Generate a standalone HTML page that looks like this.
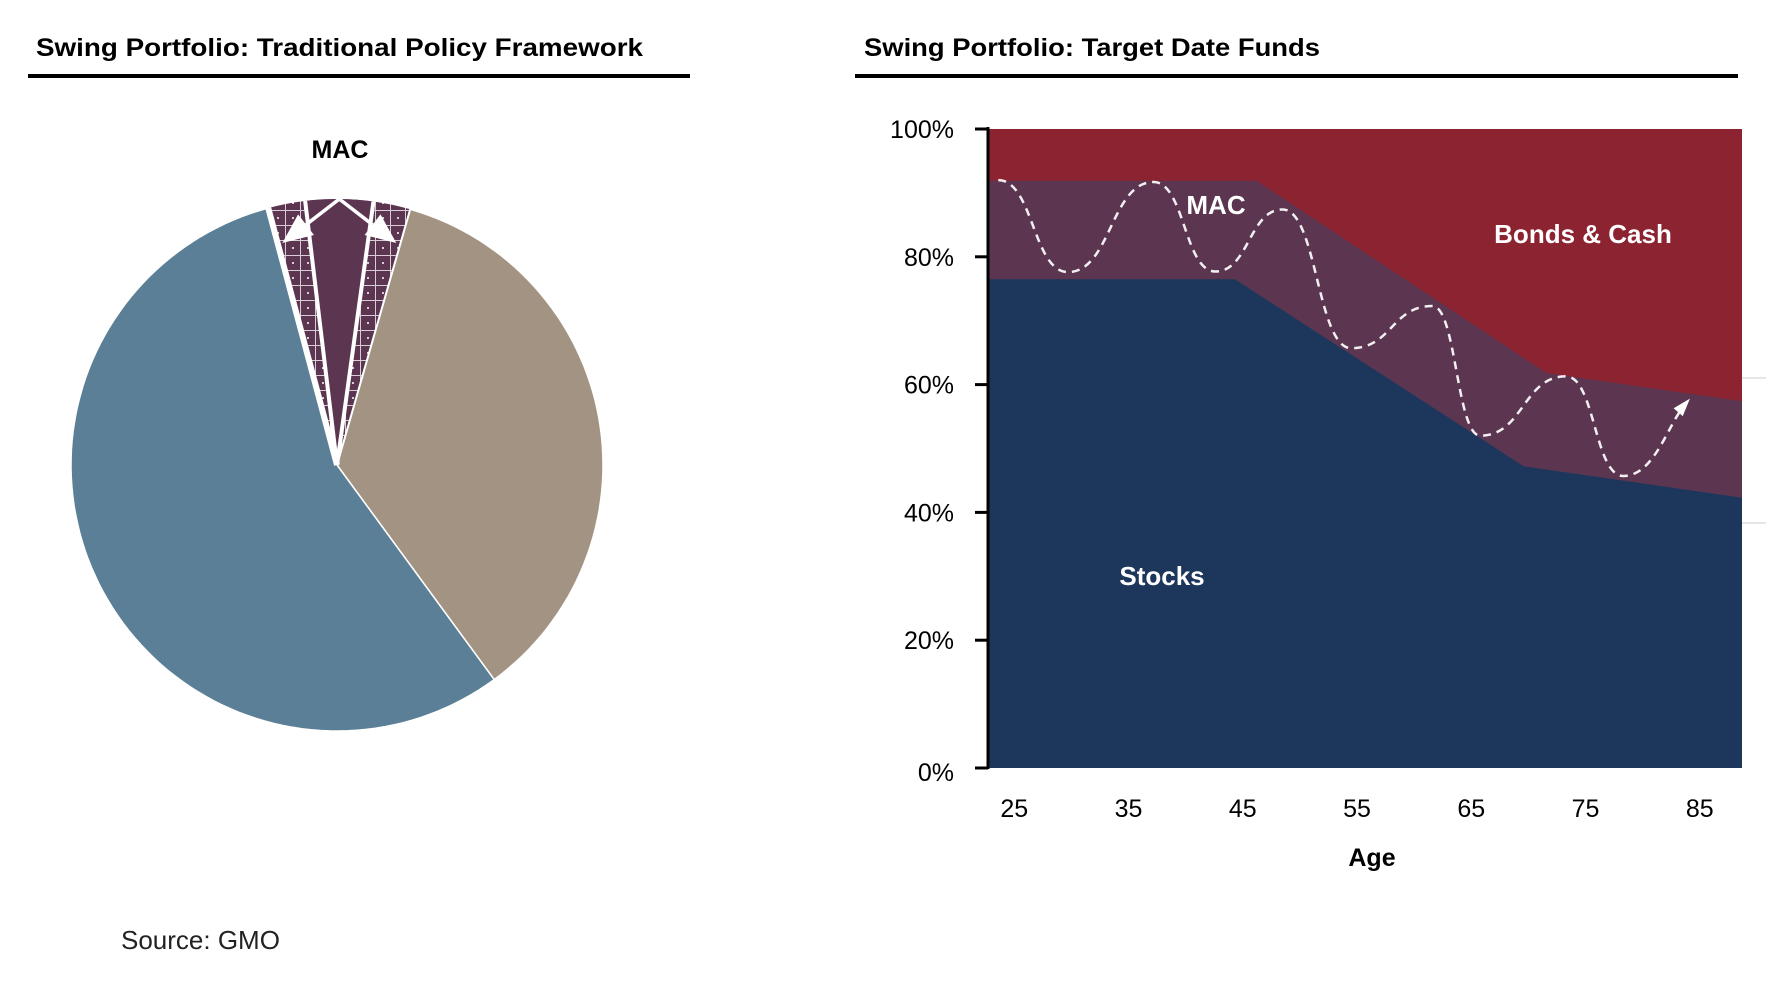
<!DOCTYPE html>
<html><head><meta charset="utf-8">
<style>
html,body{margin:0;padding:0;background:#fff;}
body{width:1786px;height:976px;overflow:hidden;position:relative;font-family:"Liberation Sans",sans-serif;}
svg text{font-family:"Liberation Sans",sans-serif;}
</style></head>
<body>
<svg id="root" width="1786" height="976" viewBox="0 0 1786 976" xmlns="http://www.w3.org/2000/svg">
<defs>
<pattern id="hatch" width="15" height="15" patternUnits="userSpaceOnUse">
<rect width="15" height="15" fill="#5C3651"/>
<path d="M0 0.5H15M0.5 0V15" stroke="#d8cdd6" stroke-width="1"/>
<circle cx="8" cy="8" r="1" fill="#fff"/>
</pattern>
</defs>
<text x="36" y="56" font-size="25" font-weight="bold" fill="#000" textLength="607" lengthAdjust="spacingAndGlyphs">Swing Portfolio: Traditional Policy Framework</text>
<rect x="28" y="74" width="662" height="4" fill="#000"/>
<text x="340" y="158" font-size="25" font-weight="bold" text-anchor="middle" fill="#000">MAC</text>
<g id="pie"></g>
<text x="121" y="949" font-size="26" fill="#222">Source: GMO</text>

<text x="864" y="56" font-size="25" font-weight="bold" fill="#000" textLength="456" lengthAdjust="spacingAndGlyphs">Swing Portfolio: Target Date Funds</text>
<rect x="855" y="74" width="883" height="4" fill="#000"/>
<g id="area"></g>
</svg>
<script>
// ---- Pie data ----
const pieCategories = ["MAC", "Bonds & Cash", "Stocks"];
const pieValues = [8.6, 35.5, 55.9];
const macCore = 4.1;
// ---- Area chart data ----
const xTicks = [25, 35, 45, 55, 65, 75, 85];
const yTicks = [0, 20, 40, 60, 80, 100];
const stockAges = [22.7, 44.3, 69.6, 88.7];
const stockValues = [76.5, 76.5, 47.2, 42.3];
const macAges = [22.7, 46.2, 71.6, 88.7];
const macTopValues = [91.9, 91.9, 61.8, 57.4];
const swingAges = [23.6, 29.7, 37.2, 42.6, 48.5, 54.5, 61.6, 65.8, 73.3, 78.3, 83.8];
const swingValues = [92, 77.6, 91.7, 77.7, 87.4, 65.7, 72.3, 52, 61.3, 45.7, 57.1];

const NS = "http://www.w3.org/2000/svg";
function mk(tag, attrs, parent){const e=document.createElementNS(NS,tag);for(const k in attrs)e.setAttribute(k,attrs[k]);parent.appendChild(e);return e;}

// ---- Pie ----
const pieG = document.getElementById('pie');
const pcx=337, pcy=465, prx=266, pry=266;
function pt(deg, s){s=s||1;const r=deg*Math.PI/180;return [pcx+prx*s*Math.sin(r), pcy-pry*s*Math.cos(r)];}
function wedge(a0,a1){
  let d=`M${pcx},${pcy}`;const n=Math.max(2,Math.ceil((a1-a0)/2));
  for(let i=0;i<=n;i++){const p=pt(a0+(a1-a0)*i/n);d+=`L${p[0].toFixed(1)},${p[1].toFixed(1)}`;}
  return d+'Z';
}
const pieTotal = pieValues.reduce((a,b)=>a+b,0);
const macDeg = pieValues[0]/pieTotal*360;
const macStart = 0.5 - macDeg/2;
const pieColors = ["url(#hatch)", "#A39382", "#5B7F96"];
const pieNames = ["pie-slice-mac", "pie-slice-bonds-cash", "pie-slice-stocks"];
let ang = macStart;
for(let i=0;i<pieValues.length;i++){
  const d = pieValues[i]/pieTotal*360;
  const p = mk('path',{d:wedge(ang,ang+d),fill:pieColors[i],stroke:'#fff','stroke-width':i==0?0:1.5},pieG);
  
  
  ang+=d;
}
const coreDeg = macCore/pieTotal*360;
const c0 = 0.5-coreDeg/2, c1 = 0.5+coreDeg/2;
const coreEl = mk('path',{d:wedge(c0,c1),fill:'#5C3651'},pieG);


[[macStart,6],[c0,4],[c1,4],[macStart+macDeg,2]].forEach(([an,w])=>{
  const p=pt(an);
  const l=mk('line',{x1:pcx,y1:pcy,x2:p[0],y2:p[1],stroke:'#fff','stroke-width':w},pieG);
  
  
});
const macTop = pt(0.5);
[-1,1].forEach(s=>{
  const tip = [macTop[0]+s*57, macTop[1]+44];
  const dx=tip[0]-macTop[0], dy=tip[1]-macTop[1], L=Math.hypot(dx,dy), ux=dx/L, uy=dy/L;
  const bx=tip[0]-ux*30, by=tip[1]-uy*30;
  const ln=mk('line',{x1:macTop[0],y1:macTop[1],x2:bx,y2:by,stroke:'#fff','stroke-width':3.5},pieG);
  
  
  const hw=13;
  const hd=mk('polygon',{points:`${tip[0]},${tip[1]} ${bx-uy*hw},${by+ux*hw} ${bx+uy*hw},${by-ux*hw}`,fill:'#fff'},pieG);
  
  
});

// ---- Area chart ----
const areaG = document.getElementById('area');
const X0=988, X1=1742, Y0=768, Y1=129;
const ageMin=22.7, ageMax=88.7;
const xs = v => X0 + (v-ageMin)/(ageMax-ageMin)*(X1-X0);
const ys = v => Y0 - v/100*(Y0-Y1);
const bg = mk('rect',{x:X0,y:Y1,width:X1-X0,height:Y0-Y1,fill:'#8B2331'},areaG);


function areaPath(ages, vals){
  let d=`M${xs(ages[0])},${Y0}`;
  ages.forEach((t,i)=>{d+=`L${xs(t).toFixed(1)},${ys(vals[i]).toFixed(1)}`;});
  return d+`L${xs(ages[ages.length-1])},${Y0}Z`;
}
const macA = mk('path',{d:areaPath(macAges,macTopValues),fill:'#5C3651'},areaG);


const stA = mk('path',{d:areaPath(stockAges,stockValues),fill:'#1C365C'},areaG);


const gs1=mk('line',{x1:X1,y1:378,x2:1766,y2:378,stroke:'#ccc','stroke-width':1},areaG);


const gs2=mk('line',{x1:X1,y1:523,x2:1766,y2:523,stroke:'#ccc','stroke-width':1},areaG);


let sd=`M${xs(swingAges[0]).toFixed(1)},${ys(swingValues[0]).toFixed(1)}`;
for(let i=1;i<swingAges.length;i++){
  const x0=xs(swingAges[i-1]),y0=ys(swingValues[i-1]),x1=xs(swingAges[i]),y1=ys(swingValues[i]);
  const h=(x1-x0)/2;
  if(i==swingAges.length-1){sd+=`C${(x0+h).toFixed(1)},${y0.toFixed(1)} ${(x1-h*0.6).toFixed(1)},${(y1+(y0-y1)*0.3).toFixed(1)} ${x1.toFixed(1)},${y1.toFixed(1)}`;}
  else sd+=`C${(x0+h).toFixed(1)},${y0.toFixed(1)} ${(x1-h).toFixed(1)},${y1.toFixed(1)} ${x1.toFixed(1)},${y1.toFixed(1)}`;
}
const sw = mk('path',{d:sd,fill:'none',stroke:'#fff','stroke-width':2.5,'stroke-dasharray':'8 6',opacity:0.92},areaG);


{
  const n=swingAges.length;
  const ex=xs(swingAges[n-1]), ey=ys(swingValues[n-1]);
  const px=xs(swingAges[n-2]), py=ys(swingValues[n-2]);
  let ux=ex-px, uy=ey-py; const L=Math.hypot(ux,uy); ux/=L; uy/=L;
  const tx=ex+ux*6, ty=ey+uy*6, bx=ex-ux*12, by=ey-uy*12, hw=6;
  const ah=mk('polygon',{points:`${tx},${ty} ${bx-uy*hw},${by+ux*hw} ${bx+uy*hw},${by-ux*hw}`,fill:'#fff'},areaG);
  
  
}
const ya=mk('line',{x1:X0,y1:Y1-2,x2:X0,y2:Y0+1,stroke:'#000','stroke-width':3},areaG);


yTicks.forEach(v=>{
  const y=ys(v);
  const tk=mk('line',{x1:975,y1:y,x2:X0,y2:y,stroke:'#000','stroke-width':3},areaG);
  
  
  const t=mk('text',{x:954,y:y+9+(v==0?4:0),'font-size':25,'text-anchor':'end',fill:'#000'},areaG);
  t.textContent=v+'%';
  
  
});
xTicks.forEach(v=>{
  const t=mk('text',{x:xs(v),y:817,'font-size':25,'text-anchor':'middle',fill:'#000'},areaG);
  t.textContent=v;
  
  
});
const xt=mk('text',{x:1372,y:866,'font-size':25,'font-weight':'bold','text-anchor':'middle',fill:'#000'},areaG);
xt.textContent='Age';


[['MAC',1216,214,'label-mac'],['Bonds & Cash',1583,243,'label-bonds-cash'],['Stocks',1162,585,'label-stocks']].forEach(([s,x,y,n])=>{
  const t=mk('text',{x:x,y:y,'font-size':26,'font-weight':'bold','text-anchor':'middle',fill:'#fff'},areaG);
  t.textContent=s;
  
  
});
</script>
</body></html>
